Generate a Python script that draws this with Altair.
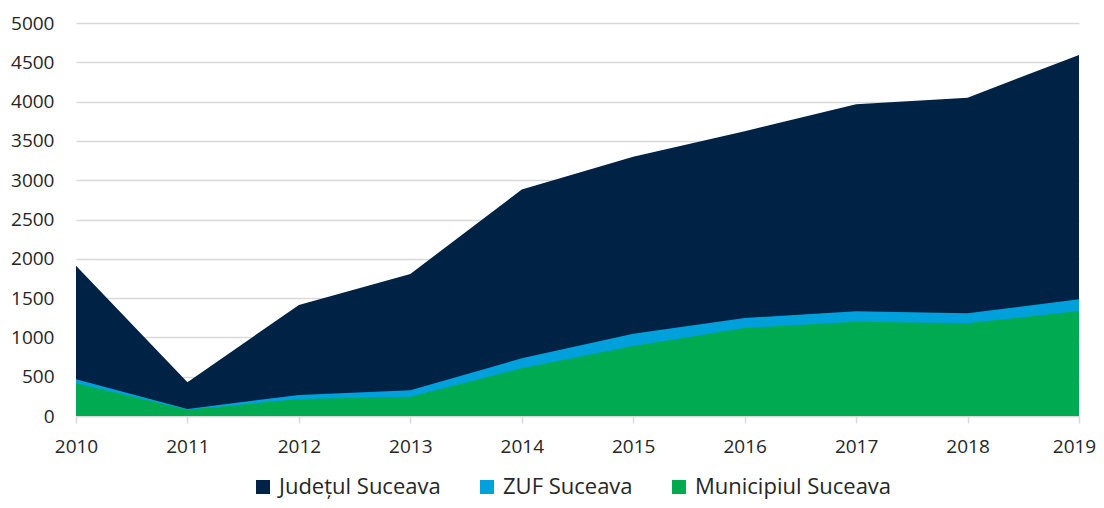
import altair as alt
import pandas as pd

years = [2010, 2011, 2012, 2013, 2014, 2015, 2016, 2017, 2018, 2019]
judetul = [1912, 430, 1412, 1807, 2882, 3298, 3622, 3966, 4050, 4593]
zuf = [468, 90, 267, 327, 734, 1047, 1247, 1332, 1307, 1485]
municipiul = [416, 80, 216, 246, 607, 890, 1120, 1200, 1179, 1336]

series_names = ["Județul Suceava", "ZUF Suceava", "Municipiul Suceava"]
series_colors = ["#002244", "#00A0DC", "#00AA50"]
y_ticks = [0, 500, 1000, 1500, 2000, 2500, 3000, 3500, 4000, 4500, 5000]

rows = []
for name, vals in zip(series_names, [judetul, zuf, municipiul]):
    for yr, v in zip(years, vals):
        rows.append({"An": yr, "Serie": name, "Valoare": v})
df = pd.DataFrame(rows)

color = alt.Color(
    "Serie:N",
    scale=alt.Scale(domain=series_names, range=series_colors),
    sort=series_names,
    legend=alt.Legend(
        title=None,
        orient="none",
        direction="horizontal",
        legendX=176,
        legendY=453,
        symbolType="square",
        symbolSize=196,
        symbolStrokeWidth=0,
        labelOffset=5,
        columnPadding=35,
        labelFont="Open Sans",
        labelFontSize=22,
        labelLimit=0,
        labelColor="#262626",
        padding=0,
    ),
)

x_axis = alt.Axis(
    title=None,
    values=years,
    format="d",
    grid=False,
    domainColor="#D9D9D9",
    domainWidth=1.5,
    tickColor="#D9D9D9",
    tickWidth=1.5,
    tickSize=7,
    labelPadding=14,
    labelFlush=False,
    labelBound=False,
    labelOffset={"condition": {"test": "datum.value == 2019", "value": -5}, "value": 0},
    labelFont="Open Sans",
    labelFontSize=19,
    labelColor="#262626",
)
y_axis = alt.Axis(
    title=None,
    values=y_ticks,
    format="d",
    domain=False,
    ticks=False,
    gridColor="#D9D9D9",
    gridWidth=1.5,
    labelPadding=22,
    labelFont="Open Sans",
    labelFontSize=19,
    labelColor="#262626",
)

layers = []
for name in series_names:
    layers.append(
        alt.Chart(df)
        .transform_filter(alt.datum.Serie == name)
        .mark_area(opacity=1, interpolate="linear")
        .encode(
            x=alt.X("An:Q", scale=alt.Scale(domain=[2010, 2019], nice=False, zero=False), axis=x_axis),
            y=alt.Y("Valoare:Q", stack=None, scale=alt.Scale(domain=[0, 5000], nice=False), axis=y_axis),
            color=color,
        )
    )

chart = (
    alt.layer(*layers)
    .properties(
        width=1003,
        height=393,
        autosize=alt.AutoSizeParams(type="none"),
        padding={"left": 68, "top": 15, "right": 17, "bottom": 84},
    )
    .configure_view(stroke=None)
)

chart.save("out.html", embed_options={"renderer": "svg", "actions": False})
